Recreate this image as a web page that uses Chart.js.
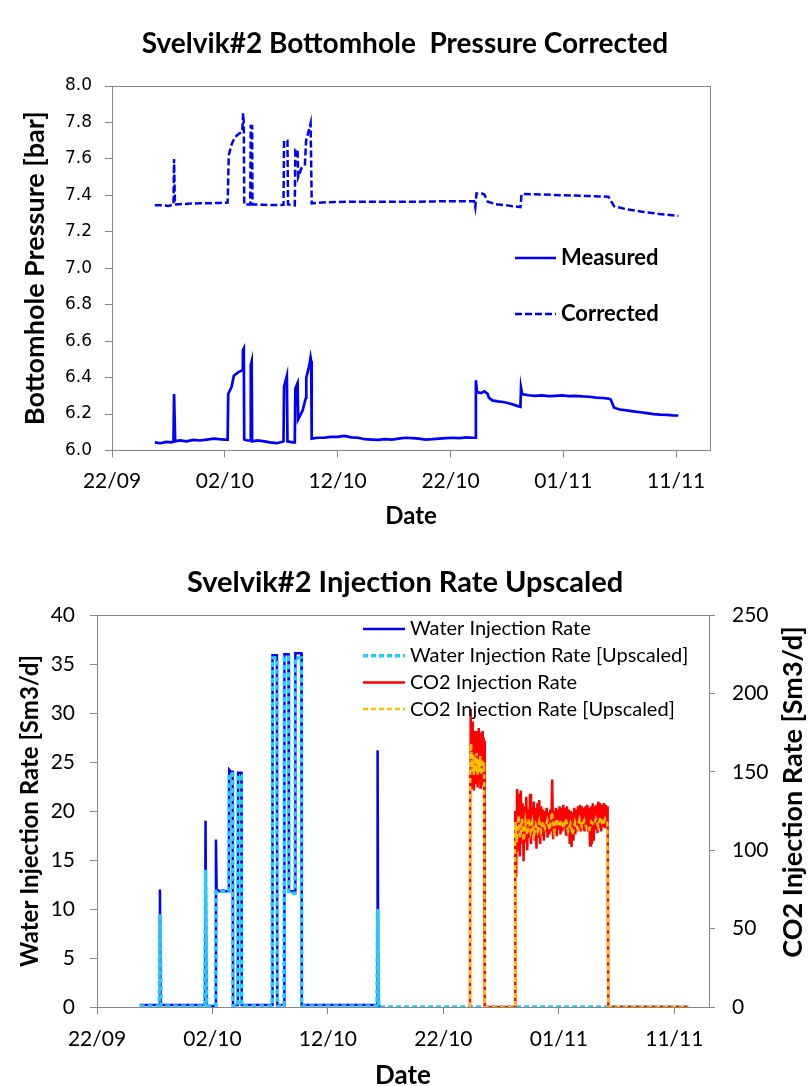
<!DOCTYPE html>
<html lang="en">
<head>
<meta charset="UTF-8">
<title>Svelvik#2</title>
<script src="https://cdn.jsdelivr.net/npm/chart.js"></script>
<style>
  body { margin: 0; background: #fff; }
  canvas { position: absolute; left: 0; }
  #pressureCanvas { top: 0; }
  #rateCanvas { top: 545px; }
</style>
</head>
<body>
<canvas id="pressureCanvas" width="810" height="545"></canvas>
<canvas id="rateCanvas" width="810" height="541"></canvas>
<script>
// x values are days counted from 22/09
const dateLabels = ['22/09', '02/10', '12/10', '22/10', '01/11', '11/11'];

const measuredDays = [3.8, 4.3, 4.8, 5.3, 5.45, 5.5, 5.6, 6.0, 6.6, 7.2, 7.8, 8.4, 9.0, 9.5, 10.0, 10.25,
  10.3, 10.6, 10.8, 11.2, 11.55, 11.6, 11.68, 11.72, 12.0, 12.25, 12.3, 12.38, 12.42, 12.9, 13.5, 14.0,
  14.6, 15.1, 15.2, 15.25, 15.5, 15.55, 16.0, 16.2, 16.25, 16.45, 16.5, 16.9, 17.1, 17.2, 17.22, 17.5,
  17.6, 17.65, 17.7, 18.2, 18.8, 19.4, 20.0, 20.6, 21.2, 21.8, 22.4, 23.0, 23.6, 24.2, 24.8, 25.4, 26.0,
  26.6, 27.2, 27.8, 28.4, 29.0, 29.6, 30.2, 30.8, 31.4, 32.0, 32.2, 32.25, 32.35, 32.7, 33.0, 33.3, 33.4,
  33.7, 34.2, 34.8, 35.4, 35.9, 36.2, 36.25, 36.35, 36.9, 37.5, 38.1, 38.7, 39.3, 39.9, 40.5, 41.1, 41.7,
  42.3, 42.9, 43.5, 44.0, 44.2, 44.5, 45.0, 45.6, 46.2, 46.8, 47.4, 48.0, 48.6, 49.2, 49.7, 50.2];
const measuredBar = [6.045, 6.04, 6.047, 6.045, 6.05, 6.31, 6.05, 6.055, 6.05, 6.058, 6.055, 6.06, 6.065, 6.062, 6.06, 6.06,
  6.31, 6.35, 6.41, 6.43, 6.44, 6.55, 6.56, 6.06, 6.055, 6.055, 6.47, 6.49, 6.05, 6.055, 6.05, 6.045,
  6.04, 6.048, 6.05, 6.35, 6.41, 6.05, 6.045, 6.045, 6.34, 6.37, 6.17, 6.22, 6.27, 6.29, 6.40, 6.47,
  6.51, 6.49, 6.065, 6.07, 6.07, 6.075, 6.075, 6.08, 6.072, 6.07, 6.062, 6.06, 6.058, 6.062, 6.06, 6.065, 6.07,
  6.068, 6.065, 6.06, 6.062, 6.065, 6.068, 6.07, 6.068, 6.072, 6.07, 6.07, 6.385, 6.32, 6.315, 6.325, 6.31, 6.29,
  6.275, 6.27, 6.265, 6.255, 6.245, 6.24, 6.345, 6.31, 6.303, 6.3, 6.302, 6.298, 6.3, 6.302, 6.298, 6.3, 6.297,
  6.295, 6.29, 6.288, 6.285, 6.28, 6.235, 6.225, 6.22, 6.215, 6.21, 6.205, 6.2, 6.197, 6.195, 6.193, 6.192];

const correctedDays = [3.8, 4.5, 5.0, 5.45, 5.5, 5.58, 6.2, 7.0, 7.8, 8.6, 9.4, 10.25, 10.35, 10.6, 10.9, 11.3,
  11.55, 11.62, 11.68, 11.72, 12.25, 12.3, 12.42, 12.45, 13.5, 14.5, 15.2, 15.25, 15.55, 15.6, 16.2, 16.25,
  16.45, 16.5, 16.8, 17.1, 17.2, 17.5, 17.6, 17.7, 19.0, 21.0, 23.0, 25.0, 27.0, 29.0, 31.0, 32.1, 32.2,
  32.3, 32.7, 33.0, 33.3, 34.0, 35.0, 36.2, 36.3, 38.0, 40.0, 42.0, 44.0, 44.5, 45.5, 47.0, 48.5, 50.2];
const correctedBar = [7.345, 7.345, 7.342, 7.35, 7.60, 7.35, 7.352, 7.355, 7.356, 7.357, 7.358, 7.36, 7.62, 7.68, 7.72, 7.74,
  7.75, 7.85, 7.80, 7.35, 7.35, 7.78, 7.78, 7.35, 7.348, 7.347, 7.348, 7.70, 7.70, 7.35, 7.345, 7.65,
  7.65, 7.50, 7.55, 7.57, 7.70, 7.77, 7.795, 7.356, 7.362, 7.365, 7.365, 7.365, 7.365, 7.367, 7.368, 7.368, 7.335,
  7.41, 7.412, 7.405, 7.365, 7.352, 7.345, 7.335, 7.407, 7.405, 7.4, 7.397, 7.393, 7.34, 7.325, 7.31, 7.298, 7.287];

const waterDays = [3.7, 5.4, 5.45, 5.52, 9.35, 9.4, 9.48, 10.25, 10.3, 10.36, 10.6, 10.9, 11.2, 11.42, 11.45, 11.6,
  11.75, 11.78, 12.2, 12.22, 12.5, 12.53, 15.17, 15.2, 15.58, 15.61, 16.2, 16.23, 16.58, 16.62, 17.15, 17.18,
  17.7, 17.73, 24.25, 24.3, 24.36, 24.5];
const waterRate = [0.2, 0.2, 12.0, 0.2, 0.2, 19.0, 0.1, 0.1, 17.1, 12.0, 11.8, 11.9, 11.8, 11.9, 24.2, 24.0,
  24.0, 0.2, 0.2, 23.9, 23.9, 0.2, 0.2, 35.9, 35.9, 0.2, 0.2, 36.0, 36.0, 11.8, 11.8, 36.1,
  36.1, 0.2, 0.2, 26.2, 0.1, 0.1];

const waterUpDays = [3.7, 5.4, 5.45, 5.55, 9.35, 9.4, 9.5, 10.28, 10.32, 11.42, 11.45, 11.75, 11.78, 12.2, 12.22, 12.5,
  12.53, 15.17, 15.2, 15.58, 15.61, 16.2, 16.23, 16.58, 16.62, 17.15, 17.18, 17.7, 17.73, 24.25, 24.3, 24.4, 51.2];
const waterUpRate = [0.1, 0.1, 9.5, 0.1, 0.1, 14.0, 0.1, 0.1, 11.8, 11.8, 23.8, 23.8, 0.1, 0.1, 23.6, 23.6,
  0.1, 0.1, 35.6, 35.6, 0.1, 0.1, 35.7, 35.7, 11.6, 11.6, 35.6, 35.6, 0.1, 0.1, 10.0, 0, 0];

const co2Days = [32.3, 32.32, 32.36, 32.4, 32.44, 32.48, 32.52, 32.56, 32.6, 32.64, 32.68, 32.72, 32.76, 32.8, 32.84,
  32.88, 32.92, 32.96, 33.0, 33.04, 33.08, 33.12, 33.16, 33.2, 33.24, 33.28, 33.32, 33.36, 33.4, 33.44, 33.48,
  33.52, 33.56, 33.6, 36.2,
  36.22, 36.3, 36.38, 36.46, 36.54, 36.62, 36.7, 36.78, 36.86, 36.94, 37.02, 37.1, 37.18, 37.26, 37.34, 37.42,
  37.5, 37.58, 37.66, 37.74, 37.82, 37.9, 37.98, 38.06, 38.14, 38.22, 38.3, 38.38, 38.46, 38.54, 38.62, 38.7,
  38.78, 38.86, 38.94, 39.02, 39.1, 39.18, 39.26, 39.34, 39.42, 39.5, 39.58, 39.66, 39.74, 39.82, 39.9, 39.98,
  40.06, 40.14, 40.22, 40.3, 40.38, 40.46, 40.54, 40.62, 40.7, 40.78, 40.86, 40.94, 41.02, 41.1, 41.18, 41.26,
  41.34, 41.42, 41.5, 41.58, 41.66, 41.74, 41.82, 41.9, 41.98, 42.06, 42.14, 42.22, 42.3, 42.38, 42.46, 42.54,
  42.62, 42.7, 42.78, 42.86, 42.94, 43.02, 43.1, 43.18, 43.26, 43.34, 43.42, 43.5, 43.58, 43.66, 43.74, 43.82,
  43.9, 43.98, 44.06, 44.14, 44.22, 44.28, 51.2];
const co2Rate = [0, 150, 190, 150, 178, 140, 182, 145, 176, 138, 175, 150, 172, 142, 176,
  148, 170, 140, 174, 145, 178, 150, 172, 140, 175, 146, 170, 142, 176, 150, 172,
  145, 170, 0, 0,
  125, 83, 139, 100, 136, 96, 138, 104, 130, 93, 128, 105, 134, 100, 126, 108,
  136, 104, 128, 110, 131, 106, 127, 101, 130, 108, 132, 104, 128, 110, 126, 106,
  125, 112, 127, 108, 124, 110, 126, 112, 145, 107, 125, 111, 127, 109, 126, 113,
  128, 110, 127, 112, 129, 114, 127, 110, 128, 112, 126, 104, 125, 102, 124, 106,
  127, 110, 126, 112, 128, 114, 129, 112, 128, 113, 127, 112, 128, 114, 129, 112,
  127, 103, 128, 104, 130, 106, 128, 113, 129, 111, 131, 114, 130, 112, 129, 115,
  130, 114, 129, 116, 128, 0, 0];

const co2UpDays = [32.3, 32.32, 32.4, 32.48, 32.56, 32.64, 32.72, 32.8, 32.88, 32.96, 33.04, 33.12, 33.2, 33.28, 33.36,
  33.44, 33.52, 33.6, 36.2, 36.22, 36.35, 36.5, 36.65, 36.8, 36.95, 37.1, 37.25, 37.4, 37.55, 37.7, 37.85, 38.0,
  38.15, 38.3, 38.45, 38.6, 38.8, 39.0, 39.2, 39.4, 39.6, 39.8, 40.0, 40.2, 40.4, 40.6, 40.8, 41.0, 41.2, 41.4,
  41.6, 41.8, 42.0, 42.2, 42.4, 42.6, 42.8, 43.0, 43.2, 43.4, 43.6, 43.8, 44.0, 44.2, 44.28, 51.2];
const co2UpRate = [0, 150, 168, 150, 162, 148, 160, 150, 162, 148, 158, 150, 160, 148, 158,
  150, 156, 0, 0, 118, 105, 122, 108, 120, 106, 118, 110, 120, 112, 118, 110, 116,
  112, 118, 112, 118, 114, 119, 113, 124, 112, 120, 115, 119, 114, 120, 112, 117, 110, 118,
  114, 120, 115, 119, 114, 112, 118, 116, 120, 115, 121, 116, 120, 117, 0, 0];

const pts = (xs, ys) => xs.map((x, i) => ({ x, y: ys[i] }));

const axisGrey = '#868686';
const txt = '#000';

// box lines on the open sides of the plot area
const frame = {
  id: 'frame',
  afterDatasetsDraw(chart) {
    const { ctx, chartArea: a } = chart;
    ctx.save();
    ctx.strokeStyle = axisGrey;
    ctx.lineWidth = 1;
    ctx.beginPath();
    ctx.moveTo(a.left, Math.round(a.top) + 0.5);
    ctx.lineTo(a.right, Math.round(a.top) + 0.5);
    ctx.moveTo(Math.round(a.right) + 0.5, a.top);
    ctx.lineTo(Math.round(a.right) + 0.5, a.bottom);
    ctx.stroke();
    ctx.restore();
  }
};

// legend drawn inside the plot area
const insideLegend = {
  id: 'insideLegend',
  afterDraw(chart, args, opts) {
    const { ctx } = chart;
    ctx.save();
    ctx.font = opts.font;
    ctx.textBaseline = 'middle';
    opts.rows.forEach((r, i) => {
      const y = opts.y + i * opts.gap;
      const ds = chart.data.datasets[r];
      ctx.strokeStyle = ds.borderColor;
      ctx.lineWidth = ds.borderWidth;
      ctx.setLineDash(ds.borderDash || []);
      ctx.beginPath();
      ctx.moveTo(opts.x, y);
      ctx.lineTo(opts.x + opts.lineLen, y);
      ctx.stroke();
      ctx.setLineDash([]);
      ctx.fillStyle = txt;
      ctx.fillText(ds.label, opts.x + opts.lineLen + 5, y);
    });
    ctx.restore();
  }
};

// right-hand axis title, reading bottom to top like the left one
const sideTitle = {
  id: 'sideTitle',
  afterDraw(chart, args, opts) {
    const { ctx } = chart;
    ctx.save();
    ctx.translate(opts.x, opts.y);
    ctx.rotate(-Math.PI / 2);
    ctx.font = opts.font;
    ctx.fillStyle = txt;
    ctx.textAlign = 'center';
    ctx.textBaseline = 'middle';
    ctx.fillText(opts.text, 0, 0);
    ctx.restore();
  }
};

const dateAxis = (height, tickFont, titleFont, titlePad, labelPad) => ({
  type: 'linear',
  min: 0,
  max: 53,
  afterBuildTicks: s => { s.ticks = [0, 10, 20, 30, 40, 50].map(v => ({ value: v })); },
  afterFit: s => { s.height = height; },
  ticks: { color: txt, font: tickFont, padding: labelPad, maxRotation: 0, autoSkip: false,
    callback: v => dateLabels[Math.round(v / 10)] },
  grid: { drawOnChartArea: false, tickLength: 7, color: axisGrey },
  border: { color: axisGrey },
  title: { display: true, text: 'Date', color: txt, font: titleFont, padding: { top: 0, bottom: titlePad } }
});

new Chart(document.getElementById('pressureCanvas'), {
  type: 'line',
  data: {
    datasets: [
      { label: 'Measured', data: pts(measuredDays, measuredBar), borderColor: '#0000FF', borderWidth: 2.7 },
      { label: 'Corrected', data: pts(correctedDays, correctedBar), borderColor: '#0000FF', borderWidth: 2.5, borderDash: [7, 3] }
    ]
  },
  options: {
    responsive: false,
    animation: false,
    events: [],
    elements: { point: { radius: 0 }, line: { tension: 0 } },
    layout: { padding: 0 },
    scales: {
      x: dateAxis(94.5, { family: 'Lato', size: 21 }, { family: 'Lato', size: 24, weight: 'bold' }, 14, 11),
      y: {
        min: 6,
        max: 8,
        afterBuildTicks: s => { s.ticks = [6, 6.2, 6.4, 6.6, 6.8, 7, 7.2, 7.4, 7.6, 7.8, 8].map(v => ({ value: v })); },
        afterFit: s => { s.width = 112; },
        ticks: { color: txt, font: { family: 'DejaVu Sans', size: 17 }, padding: 13, callback: v => v.toFixed(1) },
        grid: { drawOnChartArea: false, tickLength: 7, color: axisGrey },
        border: { color: axisGrey },
        title: { display: true, text: 'Bottomhole Pressure [bar]', color: txt,
          font: { family: 'Lato', size: 27, weight: 'bold' }, padding: { top: 19, bottom: 0 } }
      },
      // empty strip on the right so the title centres on the whole chart
      side: {
        position: 'right',
        afterFit: s => { s.width = 100; },
        ticks: { display: false },
        grid: { display: false },
        border: { display: false }
      }
    },
    plugins: {
      legend: { display: false },
      tooltip: { enabled: false },
      title: {
        display: true,
        text: 'Svelvik#2 Bottomhole  Pressure Corrected',
        color: txt,
        font: { family: 'Lato', size: 28, weight: 'bold' },
        padding: { top: 27, bottom: 25.4 }
      },
      insideLegend: { rows: [0, 1], x: 515, y: 258, gap: 56, lineLen: 41, font: 'bold 22px Lato' }
    }
  },
  plugins: [frame, insideLegend]
});

new Chart(document.getElementById('rateCanvas'), {
  type: 'line',
  data: {
    datasets: [
      { label: 'Water Injection Rate', data: pts(waterDays, waterRate), borderColor: '#0000FF', borderWidth: 2.5, yAxisID: 'y', order: 4 },
      { label: 'Water Injection Rate [Upscaled]', data: pts(waterUpDays, waterUpRate), borderColor: '#22CCFF', borderWidth: 3.5, borderDash: [5, 3], yAxisID: 'y', order: 3 },
      { label: 'CO2 Injection Rate', data: pts(co2Days, co2Rate), borderColor: '#FF0000', borderWidth: 2.5, yAxisID: 'y1', order: 2 },
      { label: 'CO2 Injection Rate [Upscaled]', data: pts(co2UpDays, co2UpRate), borderColor: '#FFC000', borderWidth: 2.5, borderDash: [5, 3], yAxisID: 'y1', order: 1 }
    ]
  },
  options: {
    responsive: false,
    animation: false,
    events: [],
    elements: { point: { radius: 0 }, line: { tension: 0 } },
    layout: { padding: 0 },
    scales: {
      x: dateAxis(79, { family: 'Lato', size: 21 }, { family: 'Lato', size: 26, weight: 'bold' }, -5, 13),
      y: {
        position: 'left',
        min: 0,
        max: 40,
        afterBuildTicks: s => { s.ticks = [0, 5, 10, 15, 20, 25, 30, 35, 40].map(v => ({ value: v })); },
        afterFit: s => { s.width = 97; },
        ticks: { color: txt, font: { family: 'Lato', size: 21 }, padding: 15 },
        grid: { drawOnChartArea: false, tickLength: 7, color: axisGrey },
        border: { color: axisGrey },
        title: { display: true, text: 'Water Injection Rate [Sm3/d]', color: txt,
          font: { family: 'Lato', size: 24, weight: 'bold' }, padding: { top: 16, bottom: 0 } }
      },
      y1: {
        position: 'right',
        min: 0,
        max: 250,
        afterBuildTicks: s => { s.ticks = [0, 50, 100, 150, 200, 250].map(v => ({ value: v })); },
        afterFit: s => { s.width = 101; },
        ticks: { color: txt, font: { family: 'Lato', size: 21 }, padding: 17 },
        grid: { drawOnChartArea: false, tickLength: 6, color: axisGrey },
        border: { color: axisGrey }
      }
    },
    plugins: {
      legend: { display: false },
      tooltip: { enabled: false },
      title: {
        display: true,
        text: 'Svelvik#2 Injection Rate Upscaled',
        color: txt,
        font: { family: 'Lato', size: 29, weight: 'bold' },
        padding: { top: 20, bottom: 15.2 }
      },
      insideLegend: { rows: [0, 1, 2, 3], x: 363, y: 84, gap: 26.7, lineLen: 42, font: '20px Lato' },
      sideTitle: { text: 'CO2 Injection Rate [Sm3/d]', x: 793, y: 247, font: 'bold 27px Lato' }
    }
  },
  plugins: [frame, insideLegend, sideTitle]
});
</script>
</body>
</html>
